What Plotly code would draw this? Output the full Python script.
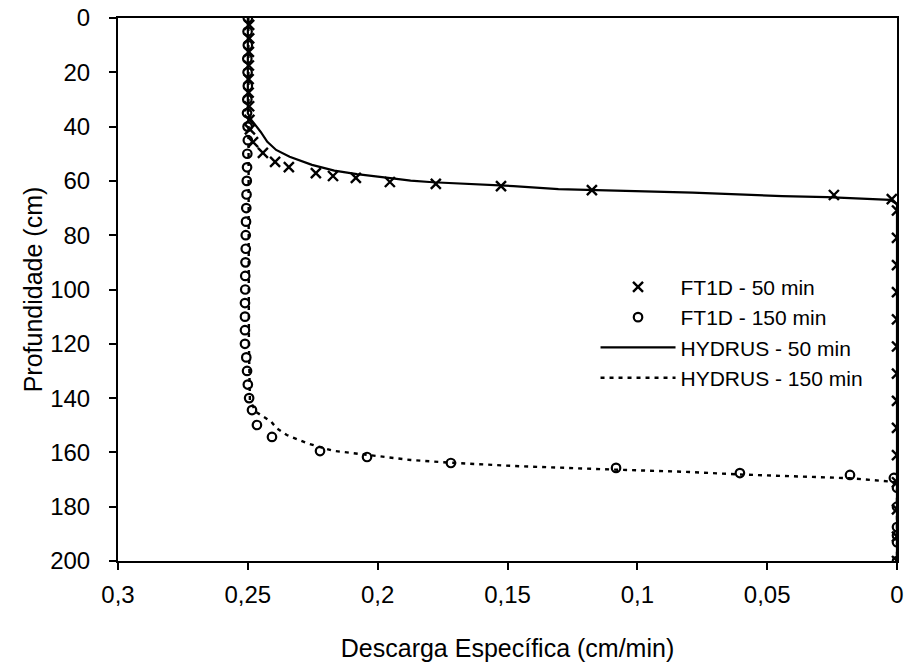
import plotly.graph_objects as go

# ---------------- data ----------------
# FT1D - 50 min (x markers)
ft50_depth = [2.5, 7.5, 12.5, 17.5, 22.5, 27.5, 32.5, 37.5, 41.0,
              45.7, 49.7, 53.0, 54.9, 57.1, 58.2, 58.9, 60.4, 61.1, 61.9, 63.4, 65.2, 66.7,
              70.9, 81, 91, 101, 111, 121, 131, 141, 151, 161, 171, 181, 191, 200]
ft50_flux = [0.2495, 0.2495, 0.2496, 0.2496, 0.2497, 0.2497, 0.2495, 0.2494, 0.2492,
             0.2480, 0.2442, 0.2395, 0.2342, 0.2238, 0.2172, 0.2084, 0.1953, 0.1776, 0.1525, 0.1175, 0.0243, 0.0020,
             0.0, 0.0, 0.0, 0.0, 0.0, 0.0, 0.0, 0.0, 0.0, 0.0, 0.0, 0.0, 0.0, 0.0]

# FT1D - 150 min (open circles)
ft150_depth = [0, 5, 10, 15, 20, 25, 30, 35, 40, 45, 50, 55, 60, 65, 70, 75, 80, 85, 90, 95,
               100, 105, 110, 115, 120, 125, 130, 135, 140,
               144.4, 149.9, 154.3, 159.5, 161.7, 163.9, 165.7, 167.6, 168.3, 169.4,
               173, 180, 187.5, 190.6, 193.1, 200]
ft150_flux = [0.2500, 0.2501, 0.2500, 0.2502, 0.2501, 0.2500, 0.2502, 0.2503, 0.2501, 0.2500,
              0.2502, 0.2503, 0.2504, 0.2505, 0.2506, 0.2507, 0.2508, 0.2508, 0.2509, 0.2510,
              0.2510, 0.2511, 0.2511, 0.2511, 0.2511, 0.2506, 0.2503, 0.2500, 0.2495,
              0.2484, 0.2465, 0.2407, 0.2222, 0.2041, 0.1718, 0.1082, 0.0605, 0.0181, 0.0012,
              0.0, 0.0, 0.0, 0.0, 0.0, 0.0]

# HYDRUS - 50 min (solid line)
hy50_depth = [0, 35.1, 37.6, 41.9, 45.6, 48.6, 51.1, 54.1, 56.2, 57.5, 59.1, 59.9, 60.5,
              61.1, 61.9, 63.0, 63.5, 64.3, 65.6, 66.0, 67.0, 68.5, 200]
hy50_flux = [0.2500, 0.2500, 0.2486, 0.2451, 0.2425, 0.2391, 0.2339, 0.2253, 0.2167, 0.2080,
             0.1943, 0.1873, 0.1787, 0.1649, 0.1477, 0.1304, 0.1132, 0.0787, 0.0442, 0.0269,
             0.0027, 0.0, 0.0]

# HYDRUS - 150 min (dashed line)
hy150_depth = [0, 119.3, 140.7, 145.0, 148.7, 151.1, 153.6, 156.6, 159.4, 160.2, 162.8,
               163.8, 165.0, 166.2, 167.2, 168.1, 169.5, 170.8, 172.0, 200]
hy150_flux = [0.2498, 0.2496, 0.2492, 0.2470, 0.2410, 0.2389, 0.2350, 0.2273, 0.2172, 0.2099,
              0.1873, 0.1718, 0.1477, 0.1132, 0.0800, 0.0614, 0.0183, 0.0020, 0.0, 0.0]

x_tickvals = [0.3, 0.25, 0.2, 0.15, 0.1, 0.05, 0]
x_ticktext = ["0,3", "0,25", "0,2", "0,15", "0,1", "0,05", "0"]
y_tickvals = [0, 20, 40, 60, 80, 100, 120, 140, 160, 180, 200]

FONT = "Liberation Sans, Arial, Helvetica, sans-serif"

fig = go.Figure()

fig.add_trace(go.Scatter(
    x=ft50_flux, y=ft50_depth, mode="markers", name="FT1D - 50 min",
    legendgroup="a",
    marker=dict(symbol="x-thin", size=10, color="black", line=dict(color="black", width=2.4)),
))
fig.add_trace(go.Scatter(
    x=ft150_flux, y=ft150_depth, mode="markers", name="FT1D - 150 min",
    legendgroup="b",
    marker=dict(symbol="circle-open", size=8.5, color="black", line=dict(color="black", width=2.2)),
))
fig.add_trace(go.Scatter(
    x=hy50_flux, y=hy50_depth, mode="lines", name="HYDRUS - 50 min",
    legendgroup="c",
    line=dict(color="black", width=2.2),
))
fig.add_trace(go.Scatter(
    x=hy150_flux, y=hy150_depth, mode="lines", name="HYDRUS - 150 min",
    legendgroup="d",
    line=dict(color="black", width=2.4, dash="4px,5px"),
))

fig.update_layout(
    width=904, height=666,
    margin=dict(l=118, r=7, t=18, b=105, autoexpand=False),
    paper_bgcolor="white", plot_bgcolor="white",
    font=dict(family=FONT, color="black", size=22),
    showlegend=True,
    legend=dict(
        x=0.613, y=0.542, xanchor="left", yanchor="top",
        bgcolor="rgba(0,0,0,0)", borderwidth=0,
        font=dict(family=FONT, size=21, color="black"),
        itemwidth=75, tracegroupgap=0, traceorder="normal",
    ),
)

fig.update_xaxes(
    range=[0.3, 0], autorange=False, automargin=False,
    tickvals=x_tickvals, ticktext=x_ticktext,
    ticks="outside", ticklen=7, tickwidth=1.5, tickcolor="black",
    showline=True, linecolor="black", linewidth=2, mirror=True,
    showgrid=False, zeroline=False,
    tickfont=dict(family=FONT, size=24, color="black"),
    ticklabelstandoff=4,
    title=dict(text="Descarga Específica (cm/min)", font=dict(family=FONT, size=25, color="black"), standoff=33),
)
fig.update_yaxes(
    range=[200, 0], autorange=False, automargin=False,
    tickvals=y_tickvals,
    ticks="outside", ticklen=7, tickwidth=1.5, tickcolor="black",
    showline=True, linecolor="black", linewidth=2, mirror=True,
    showgrid=False, zeroline=False,
    tickfont=dict(family=FONT, size=24, color="black"),
    ticklabelstandoff=14,
    title=dict(text="Profundidade (cm)", font=dict(family=FONT, size=25, color="black"), standoff=0),
)

fig.write_html("out.html")
